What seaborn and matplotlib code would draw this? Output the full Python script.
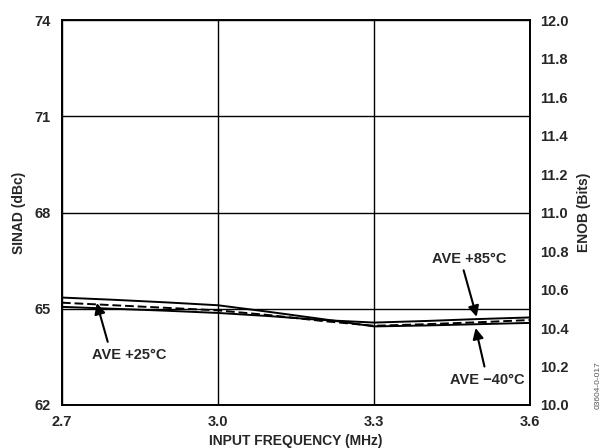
import pandas as pd
import seaborn as sns
import matplotlib.pyplot as plt

#%% data
freq = [2.7, 2.8, 2.9, 3.0, 3.1, 3.2, 3.3, 3.4, 3.5, 3.6]
sinad_m40 = [65.35, 65.28, 65.20, 65.11, 64.90, 64.68, 64.45, 64.48, 64.52, 64.56]
sinad_p25 = [65.19, 65.11, 65.03, 64.95, 64.80, 64.62, 64.47, 64.52, 64.58, 64.65]
sinad_p85 = [65.06, 65.00, 64.94, 64.87, 64.77, 64.65, 64.57, 64.62, 64.68, 64.73]

x_ticks = [2.7, 3.0, 3.3, 3.6]
y_ticks = [62, 65, 68, 71, 74]
enob_ticks = [10.0, 10.2, 10.4, 10.6, 10.8, 11.0, 11.2, 11.4, 11.6, 11.8, 12.0]

df = pd.DataFrame({"freq": freq, "-40": sinad_m40, "+25": sinad_p25, "+85": sinad_p85})
dfm = df.melt("freq", var_name="temp", value_name="sinad")

sns.set_theme(style="white")
plt.rcParams['font.family'] = ['Liberation Sans', 'DejaVu Sans']
plt.rcParams['font.weight'] = 'bold'

fig, ax = plt.subplots(figsize=(6.13, 4.48), dpi=100)
fig.subplots_adjust(left=0.101, right=0.865, top=0.955, bottom=0.096)

sns.lineplot(data=dfm, x="freq", y="sinad", hue="temp", style="temp",
             palette=["black", "black", "black"],
             dashes={"-40": "", "+25": (4.5, 2), "+85": ""},
             linewidth=1.4, legend=False, ax=ax, zorder=3)

ax.set_xlim(2.7, 3.6)
ax.set_ylim(62, 74)
ax.set_xticks(x_ticks)
ax.set_xticklabels([f"{v:.1f}" for v in x_ticks])
ax.set_yticks(y_ticks)
ax.grid(True, color="black", linewidth=1.0)
ax.tick_params(axis="y", length=0, labelsize=10.5, pad=8)
ax.tick_params(axis="x", length=0, labelsize=10.5, pad=7)
for s in ax.spines.values():
    s.set_color("black")
    s.set_linewidth(1.4)
ax.set_xlabel("INPUT FREQUENCY (MHz)", fontsize=10, fontweight="bold", labelpad=4)
ax.set_ylabel("SINAD (dBc)", fontsize=10, fontweight="bold", labelpad=6)

# right axis ENOB
ax2 = ax.twinx()
ax2.set_ylim(10.0, 12.0)
ax2.set_yticks(enob_ticks)
ax2.set_yticklabels([f"{v:.1f}" for v in enob_ticks])
ax2.tick_params(length=0, labelsize=10.5, pad=7)
ax2.set_ylabel("ENOB (Bits)", fontsize=10, fontweight="bold", labelpad=6)
for s in ax2.spines.values():
    s.set_visible(False)

# annotations
arrow = dict(arrowstyle="-|>", color="black", lw=1.5, mutation_scale=16, shrinkA=0, shrinkB=0)
ax.annotate("", xy=(2.767, 65.18), xytext=(2.788, 63.97), arrowprops=arrow)
ax.text(2.830, 63.56, "AVE +25°C", ha="center", va="center", fontsize=10.5, fontweight="bold")
ax.annotate("", xy=(3.497, 64.75), xytext=(3.472, 66.20), arrowprops=arrow)
ax.text(3.483, 66.55, "AVE +85°C", ha="center", va="center", fontsize=10.5, fontweight="bold")
ax.annotate("", xy=(3.495, 64.40), xytext=(3.512, 63.20), arrowprops=arrow)
ax.text(3.517, 62.78, "AVE −40°C", ha="center", va="center", fontsize=10.5, fontweight="bold")

fig.text(0.975, 0.14, "03604-0-017", rotation=90, fontsize=6, fontweight="normal",
         color="#555555", ha="center", va="center")

plt.savefig("out.png", dpi=100)
plt.close()
